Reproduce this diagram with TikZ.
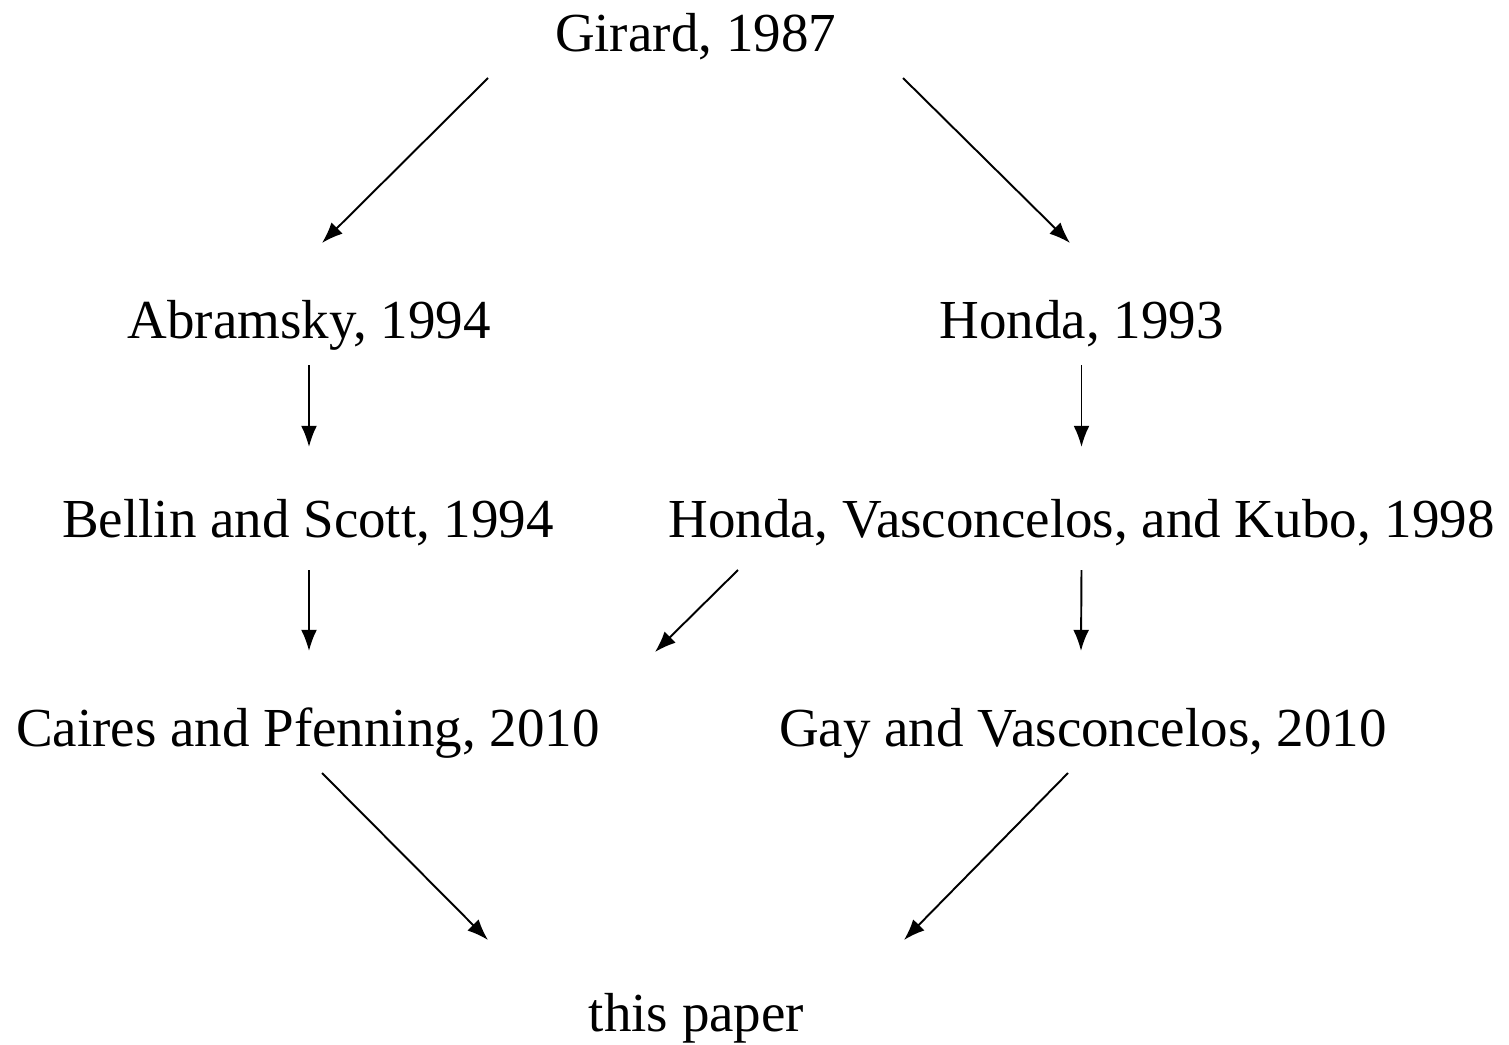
\documentclass[tikz,border=0pt]{standalone}
\usepackage{fontspec}
\setmainfont{Liberation Serif}
\usetikzlibrary{arrows.meta}
\begin{document}
\begin{tikzpicture}[x=0.02cm,y=-0.02cm,
  lbl/.style={anchor=base,inner sep=0pt,font=\fontsize{31.3}{38}\selectfont},
  arr/.style={line width=1.1pt,-{Latex[length=12pt,width=9pt]}}]
\useasboundingbox (0,0) rectangle (1509,1045);
\node[lbl] (girard) at (695.5,51) {Girard, 1987};
\node[lbl] (abr) at (309,338) {Abramsky, 1994};
\node[lbl] (honda) at (1081.5,338) {Honda, 1993};
\node[lbl] (bellin) at (308,537) {Bellin and Scott, 1994};
\node[lbl] (hvk) at (1081.5,537) {Honda, Vasconcelos, and Kubo, 1998};
\node[lbl] (caires) at (308,746) {Caires and Pfenning, 2010};
\node[lbl] (gay) at (1083,746) {Gay and Vasconcelos, 2010};
\node[lbl] (paper) at (696.5,1031) {this paper};
\draw[arr] ([shift={(-207.5,27)}]girard.base) -- ([shift={(13,-95)}]abr.base);
\draw[arr] ([shift={(207.5,27)}]girard.base) -- ([shift={(-11.5,-95)}]honda.base);
\draw[arr] ([shift={(0,27)}]abr.base) -- ([shift={(1,-90)}]bellin.base);
\draw[arr] ([shift={(0,27)}]honda.base) -- ([shift={(0,-90)}]hvk.base);
\draw[arr] ([shift={(1,33)}]bellin.base) -- ([shift={(1,-95)}]caires.base);
\draw[arr] ([shift={(-343.5,33)}]hvk.base) -- ([shift={(347,-94)}]caires.base);
\draw[arr] ([shift={(0,33)}]hvk.base) -- ([shift={(-2,-95)}]gay.base);
\draw[arr] ([shift={(14,27)}]caires.base) -- ([shift={(-208.5,-91)}]paper.base);
\draw[arr] ([shift={(-15,27)}]gay.base) -- ([shift={(207.5,-91)}]paper.base);
\end{tikzpicture}
\end{document}
